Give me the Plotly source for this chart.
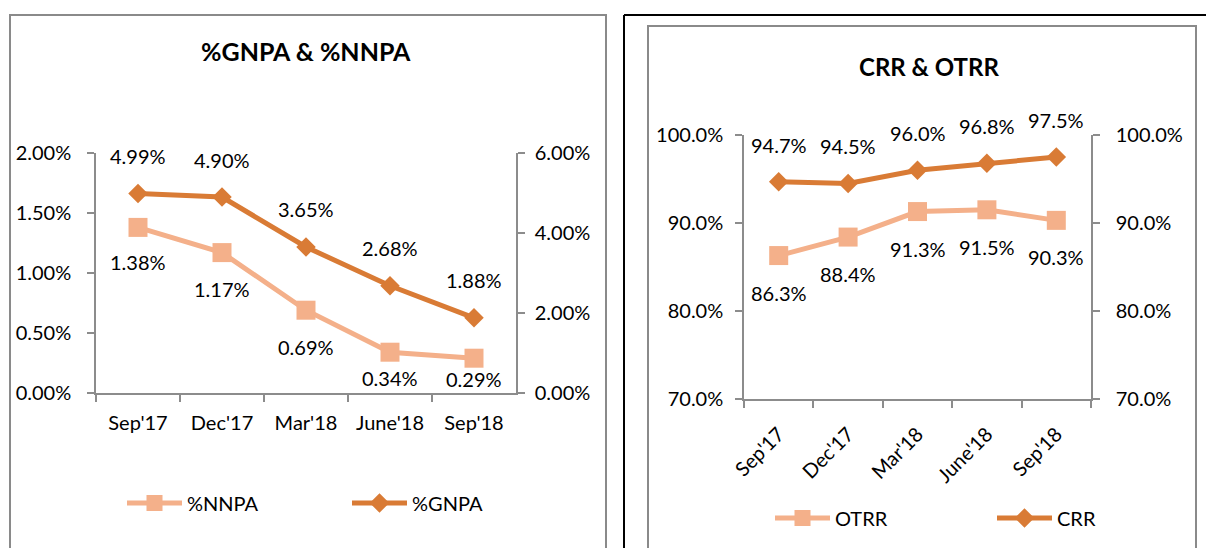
import plotly.graph_objects as go

categories = ["Sep'17", "Dec'17", "Mar'18", "June'18", "Sep'18"]
nnpa = [1.38, 1.17, 0.69, 0.34, 0.29]
gnpa = [4.99, 4.90, 3.65, 2.68, 1.88]
otrr = [86.3, 88.4, 91.3, 91.5, 90.3]
crr = [94.7, 94.5, 96.0, 96.8, 97.5]

W, H = 1206, 548
FONT = "Lato"
DARK = "#D97B35"
LIGHT = "#F4B08A"
AXC = "#8C8C8C"
FS = 20

def px(x):
    return x / W

def py(y):
    return (H - y) / H

fig = go.Figure()

fig.add_trace(go.Scatter(x=categories, y=nnpa, name="%NNPA", mode="lines+markers",
                         line=dict(color=LIGHT, width=5), marker=dict(symbol="square", size=19, color=LIGHT),
                         xaxis="x", yaxis="y", legend="legend"))
fig.add_trace(go.Scatter(x=categories, y=gnpa, name="%GNPA", mode="lines+markers",
                         line=dict(color=DARK, width=5), marker=dict(symbol="diamond", size=15, color=DARK),
                         xaxis="x", yaxis="y2", legend="legend"))
fig.add_trace(go.Scatter(x=categories, y=otrr, name="OTRR", mode="lines+markers",
                         line=dict(color=LIGHT, width=5), marker=dict(symbol="square", size=19, color=LIGHT),
                         xaxis="x2", yaxis="y3", legend="legend2"))
fig.add_trace(go.Scatter(x=categories, y=crr, name="CRR", mode="lines+markers",
                         line=dict(color=DARK, width=5), marker=dict(symbol="diamond", size=15, color=DARK),
                         xaxis="x2", yaxis="y4", legend="legend2"))

annotations = []
def labels(vals, xref, yref, shifts, fmt):
    for c, v, s in zip(categories, vals, shifts):
        annotations.append(dict(x=c, y=v, xref=xref, yref=yref, text=fmt.format(v) + "%",
                                showarrow=False, yshift=s, xanchor="center", yanchor="middle",
                                font=dict(family=FONT, size=FS, color="black")))

labels(gnpa, "x", "y2", [37, 37, 38, 38, 38], "{:.2f}")
labels(nnpa, "x", "y", [-35, -36, -37, -26, -21], "{:.2f}")
labels(crr, "x2", "y4", [37, 37, 37, 37, 37], "{:.1f}")
labels(otrr, "x2", "y3", [-37, -37, -37, -37, -37], "{:.1f}")

annotations.append(dict(x=px(306), y=py(51), xref="paper", yref="paper", text="<b>%GNPA & %NNPA</b>",
                        showarrow=False, xanchor="center", yanchor="middle",
                        font=dict(family=FONT, size=25, color="black")))
annotations.append(dict(x=px(929), y=py(66), xref="paper", yref="paper", text="<b>CRR & OTRR</b>",
                        showarrow=False, xanchor="center", yanchor="middle",
                        font=dict(family=FONT, size=24, color="black")))

axis_common = dict(showgrid=False, zeroline=False, showline=True, linecolor=AXC, linewidth=1.5,
                   ticks="outside", tickcolor=AXC, ticklen=7, tickwidth=1.5, automargin=False,
                   tickfont=dict(family=FONT, size=FS, color="black"), fixedrange=True)

shapes = [
    dict(type="rect", xref="paper", yref="paper", x0=px(10), x1=px(606), y0=py(560), y1=py(15),
         line=dict(color="#8A8A8A", width=2)),
    dict(type="line", xref="paper", yref="paper", x0=px(624), x1=px(1210), y0=py(15), y1=py(15),
         line=dict(color="black", width=2)),
    dict(type="line", xref="paper", yref="paper", x0=px(624), x1=px(624), y0=py(15), y1=py(560),
         line=dict(color="black", width=2)),
    dict(type="rect", xref="paper", yref="paper", x0=px(648), x1=px(1196), y0=py(560), y1=py(26),
         line=dict(color="#8A8A8A", width=2)),
]

fig.update_layout(
    width=W, height=H, margin=dict(l=0, r=0, t=0, b=0, autoexpand=False),
    paper_bgcolor="white", plot_bgcolor="white",
    font=dict(family=FONT, size=FS, color="black"),
    xaxis=dict(axis_common, domain=[px(96), px(516)], anchor="y", type="category", tickson="boundaries",
               range=[-0.5, 4.5], ticklabelstandoff=11),
    yaxis=dict(axis_common, domain=[py(393), py(153)], anchor="x", range=[0, 2], dtick=0.5,
               tickformat=".2f", ticksuffix="%", ticklabelstandoff=12),
    yaxis2=dict(axis_common, overlaying="y", side="right", anchor="x", range=[0, 6], dtick=2,
                tickformat=".2f", ticksuffix="%", ticklabelstandoff=6),
    xaxis2=dict(axis_common, domain=[px(744), px(1091)], anchor="y3", type="category", tickson="boundaries",
                range=[-0.5, 4.5], tickangle=-45, ticklabelstandoff=14),
    yaxis3=dict(axis_common, domain=[py(399), py(135)], anchor="x2", range=[70, 100], dtick=10,
                tickformat=".1f", ticksuffix="%", ticklabelstandoff=8),
    yaxis4=dict(axis_common, overlaying="y3", side="right", anchor="x2", range=[70, 100], dtick=10,
                tickformat=".1f", ticksuffix="%", ticklabelstandoff=12),
    legend=dict(orientation="h", x=px(122), xanchor="left", y=py(503), yanchor="middle",
                font=dict(family=FONT, size=FS, color="black"), entrywidth=155, itemwidth=55,
                bgcolor="rgba(0,0,0,0)"),
    legend2=dict(orientation="h", x=px(770), xanchor="left", y=py(518), yanchor="middle",
                 font=dict(family=FONT, size=FS, color="black"), entrywidth=152, itemwidth=55,
                 bgcolor="rgba(0,0,0,0)"),
    annotations=annotations,
    shapes=shapes,
    showlegend=True,
)

fig.write_html("out.html", config={"displayModeBar": False},
               post_script="document.body.style.margin='0';document.body.style.overflow='hidden';")
